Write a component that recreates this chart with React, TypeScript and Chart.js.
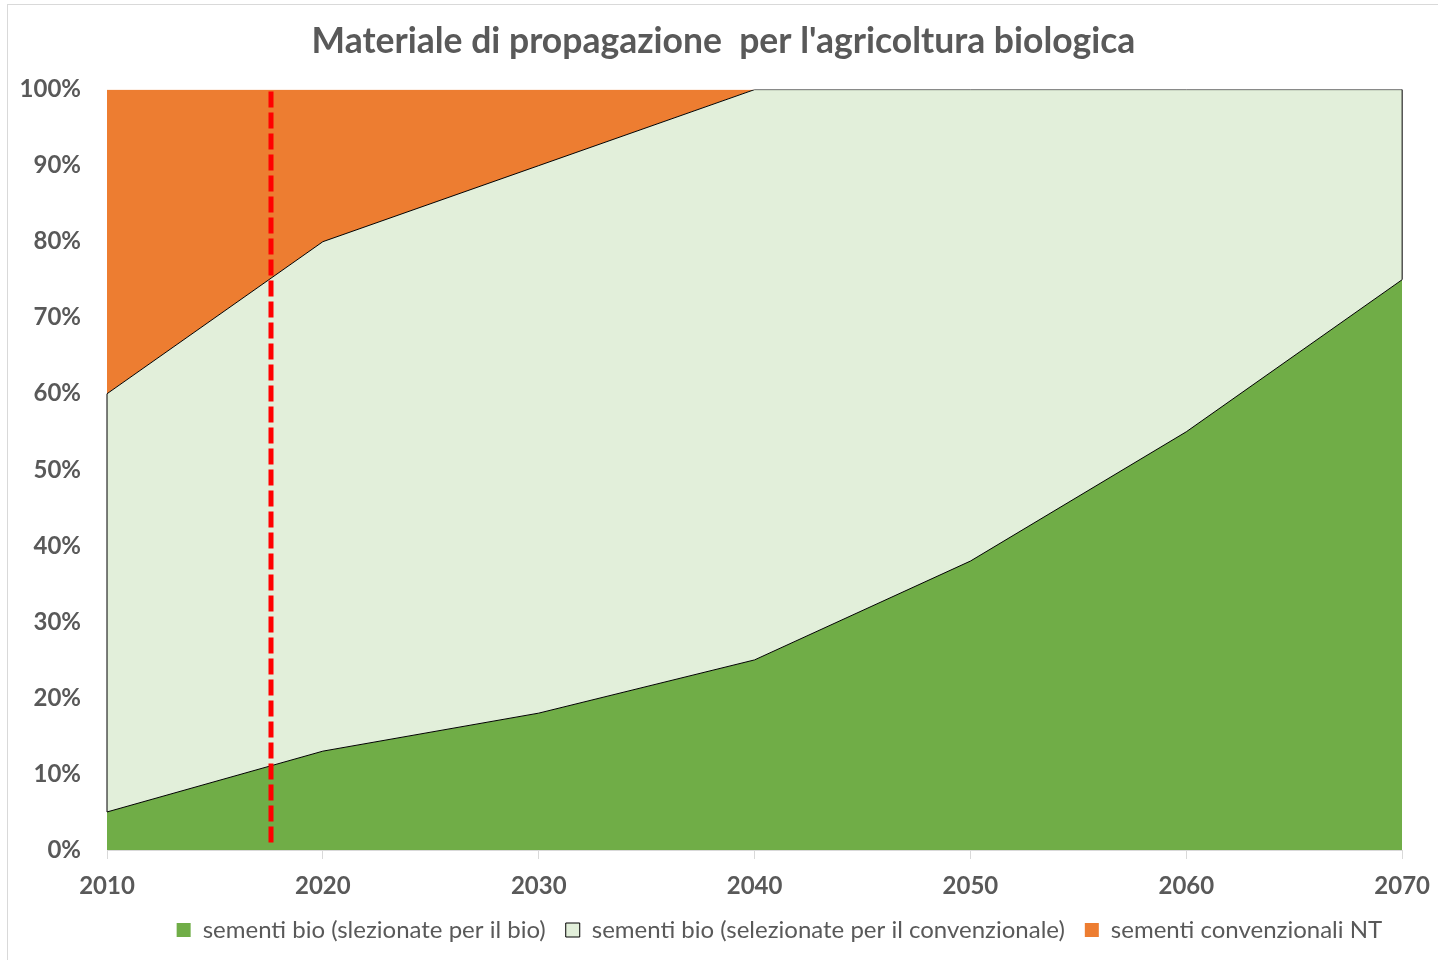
import React, { useEffect, useRef } from "react";
import { Chart, registerables } from "chart.js";

Chart.register(...registerables);

const TITLE = "Materiale di propagazione  per l'agricoltura biologica";
const years = [2010, 2020, 2030, 2040, 2050, 2060, 2070];
const bioBio = [5, 13, 18, 25, 38, 55, 75];
const bioConv = [55, 67, 72, 75, 62, 45, 25];
const convNT = [40, 20, 10, 0, 0, 0, 0];
const seriesNames = [
  "sementi bio (slezionate per il bio)",
  "sementi bio (selezionate per il convenzionale)",
  "sementi convenzionali NT",
];
const markerYear = 2017.6;
const yTicks = [0, 10, 20, 30, 40, 50, 60, 70, 80, 90, 100];

const TEXT = "#595959";
const FONT = "Lato, 'Open Sans', sans-serif";

const edgePlugin = {
  id: "edges",
  afterDatasetsDraw(chart: any) {
    const { ctx, scales } = chart;
    const x = scales.x;
    const y = scales.y;
    const last = years.length - 1;
    ctx.save();
    ctx.strokeStyle = "#000000";
    ctx.lineWidth = 1;
    ctx.beginPath();
    const x0 = x.getPixelForValue(years[0]);
    ctx.moveTo(x0, y.getPixelForValue(bioBio[0]));
    ctx.lineTo(x0, y.getPixelForValue(bioBio[0] + bioConv[0]));
    const x1 = x.getPixelForValue(years[last]);
    ctx.moveTo(x1, y.getPixelForValue(bioBio[last]));
    ctx.lineTo(x1, y.getPixelForValue(bioBio[last] + bioConv[last]));
    ctx.stroke();
    // red dashed marker
    const xm = Math.round(x.getPixelForValue(markerYear));
    ctx.strokeStyle = "#FF0000";
    ctx.lineWidth = 5;
    ctx.setLineDash([16, 5]);
    ctx.beginPath();
    ctx.moveTo(xm, y.getPixelForValue(100) + 2);
    ctx.lineTo(xm, y.getPixelForValue(0) - 6);
    ctx.stroke();
    ctx.restore();
  },
};

export default function App() {
  const ref = useRef<HTMLCanvasElement>(null);
  useEffect(() => {
    if (!ref.current) return;
    const chart = new Chart(ref.current, {
      type: "line",
      data: {
        datasets: [
          {
            label: seriesNames[0],
            data: years.map((yr, i) => ({ x: yr, y: bioBio[i] })),
            backgroundColor: "#70AD47",
            borderColor: "#000000",
            borderWidth: 1,
            fill: "origin",
            pointRadius: 0,
            tension: 0,
          },
          {
            label: seriesNames[1],
            data: years.map((yr, i) => ({ x: yr, y: bioConv[i] })),
            backgroundColor: "#E2EFDA",
            borderColor: "#000000",
            borderWidth: 1,
            fill: "-1",
            pointRadius: 0,
            tension: 0,
          },
          {
            label: seriesNames[2],
            data: years.map((yr, i) => ({ x: yr, y: convNT[i] })),
            backgroundColor: "#ED7D31",
            borderColor: "rgba(0,0,0,0)",
            borderWidth: 0,
            fill: "-1",
            pointRadius: 0,
            tension: 0,
          },
        ],
      },
      options: {
        animation: false,
        responsive: true,
        maintainAspectRatio: false,
        layout: { padding: { left: 0, right: 0, top: 0, bottom: 9 } },
        plugins: {
          title: {
            display: true,
            text: TITLE,
            color: TEXT,
            font: { family: FONT, size: 35.5, weight: "bold" },
            padding: { top: 15, bottom: 27 },
          },
          legend: {
            position: "bottom",
            align: "end",
            fullSize: false,
            labels: {
              color: TEXT,
              font: { family: FONT, size: 24 },
              boxWidth: 14,
              boxHeight: 14,
              padding: 20,
              generateLabels: (chart: any) =>
                chart.data.datasets.map((ds: any, i: number) => ({
                  text: ds.label,
                  fillStyle: ds.backgroundColor,
                  strokeStyle: "#000000",
                  lineWidth: i === 1 ? 1 : 0,
                  fontColor: TEXT,
                  datasetIndex: i,
                  hidden: false,
                })),
            },
          },
          tooltip: { enabled: false },
        },
        scales: {
          x: {
            type: "linear",
            min: years[0],
            max: years[years.length - 1],
            afterBuildTicks: (s: any) => {
              s.ticks = years.map((v) => ({ value: v }));
            },
            afterFit: (s: any) => {
              s.height = 48;
            },
            grid: {
              drawOnChartArea: false,
              drawTicks: true,
              tickLength: 9,
              color: "#D9D9D9",
            },
            border: { display: true, color: "#D9D9D9", width: 1 },
            ticks: {
              color: TEXT,
              font: { family: FONT, size: 24, weight: "bold", lineHeight: 1.5 },
              padding: 9,
              maxRotation: 0,
              callback: (v: any) => String(v),
            },
          },
          y: {
            stacked: true,
            min: 0,
            max: 100,
            afterBuildTicks: (s: any) => {
              s.ticks = yTicks.map((v) => ({ value: v }));
            },
            afterFit: (s: any) => {
              s.width = 99;
            },
            grid: { display: false },
            border: { display: false },
            ticks: {
              color: TEXT,
              font: { family: FONT, size: 24, weight: "bold" },
              padding: 18,
              callback: (v: any) => v + "%",
            },
          },
        },
      },
      plugins: [edgePlugin],
    });
    return () => chart.destroy();
  }, []);

  return (
    <div style={{ position: "fixed", inset: 0, overflow: "hidden", background: "#fff" }}>
      <div
        style={{
          position: "absolute",
          left: 7,
          top: 4,
          width: 1431,
          height: 956,
          borderLeft: "1px solid #D9D9D9",
          borderTop: "1px solid #D9D9D9",
        }}
      >
        <canvas ref={ref} />
      </div>
    </div>
  );
}
